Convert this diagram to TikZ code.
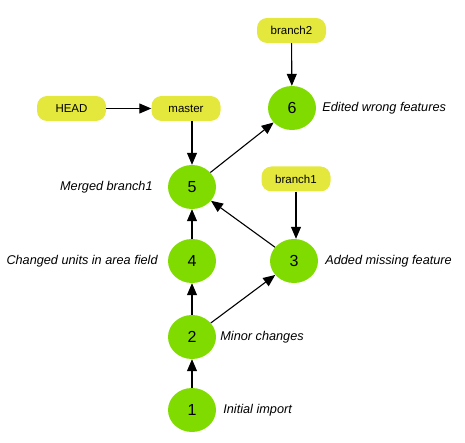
\documentclass[tikz,border=0pt]{standalone}
\usepackage{fontspec}
\setmainfont{Liberation Sans}
\usetikzlibrary{arrows.meta, positioning, shapes.geometric}
\definecolor{cCommit}{HTML}{80DC00}
\definecolor{cRef}   {HTML}{E5E83C}

\begin{document}
\begin{tikzpicture}[x=1pt, y=-1pt,
      commit/.style = {ellipse, fill=cCommit, minimum width=48pt, minimum height=44pt, inner sep=0pt, font=\fontsize{16}{19}\selectfont},
      ref/.style    = {fill=cRef, rounded corners=10pt, minimum width=69pt, minimum height=25pt, inner sep=0pt, font=\fontsize{11.5}{13}\selectfont},
      note/.style   = {inner sep=0pt, font=\fontsize{12.7}{15}\selectfont\itshape},
      ar/.style     = {-{Triangle[length=12pt, width=10pt]}, line width=1.1pt} ]
    \useasboundingbox (0,0) rectangle (465,443);

    % commits
    \node[commit] (c1) at (192,410) {1};
    \node[commit] (c2) at (192,337) {2};
    \node[commit] (c3) at (294,261) {3};
    \node[commit] (c4) at (192,261) {4};
    \node[commit] (c5) at (192,187) {5};
    \node[commit] (c6) at (292,108) {6};

    % refs
    \node[ref] (head)    at (71.5,108.5) {HEAD};
    \node[ref] (master)  at (186,108.5)  {master};
    \node[ref] (branch2) at (291.5,30.5) {branch2};
    \node[ref] (branch1) at (296,179)    {branch1};

    % messages
    \node[note, right=7pt of c1]  (m1) {Initial import};
    \node[note, right=4pt of c2]  (m2) {Minor changes};
    \node[note, right=7pt of c3]  (m3) {Added missing feature};
    \node[note, left=10pt of c4]  (m4) {Changed units in area field};
    \node[note, left=15pt of c5]  (m5) {Merged branch1};
    \node[note, right=6pt of c6]  (m6) {Edited wrong features};

    \draw[ar] (c1) -- (c2); \draw[ar] (c2) -- (c4);
    \draw[ar] (c4) -- (c5); \draw[ar] (c2) -- (c3);
    \draw[ar] (c3) -- (c5); \draw[ar] (c5) -- (c6);
    \draw[ar] (head) -- (master);
    \draw[ar] (c5 |- master.south) -- (c5);
    \draw[ar] (branch2) -- (c6);
    \draw[ar] (branch1.south) -- (branch1.south |- c3.north);
  \end{tikzpicture}
\end{document}
